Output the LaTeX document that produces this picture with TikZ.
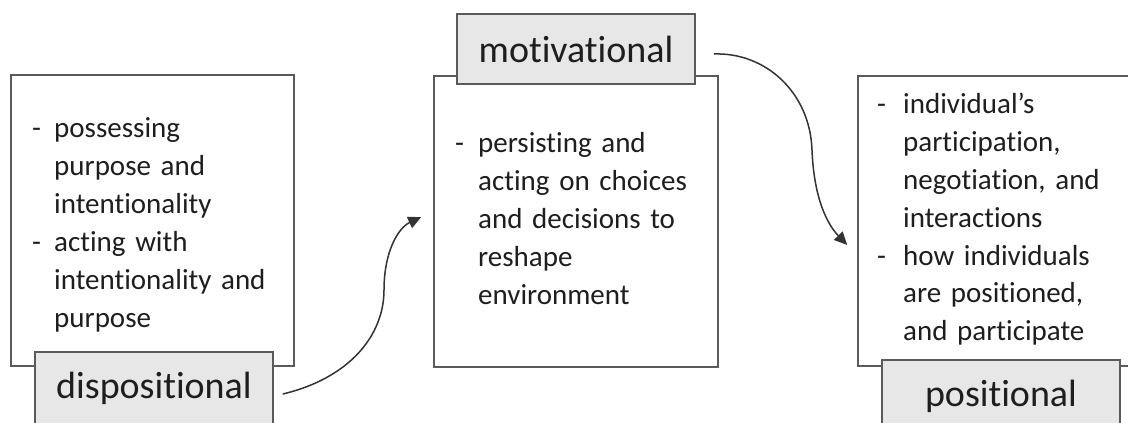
\documentclass[tikz,border=0pt]{standalone}
\usepackage{fontspec}
\setmainfont{Carlito}[Ligatures={NoCommon}]
\usetikzlibrary{arrows.meta}
\definecolor{boxline}{HTML}{5A5A5A}
\definecolor{labfill}{HTML}{E7E7E7}
\definecolor{txt}{HTML}{1E1E1E}
\tikzset{
  bigbox/.style={draw=boxline, line width=1.6pt, fill=white, minimum width=284pt, minimum height=291pt, inner sep=0pt},
  labbox/.style={draw=boxline, line width=1.6pt, fill=labfill, minimum width=238pt, minimum height=70pt, inner sep=0pt, text=txt, font=\fontsize{38}{44}\selectfont},
  dashtxt/.style={anchor=base west, inner sep=0pt, text=txt, font=\fontsize{29}{38}\selectfont},
  bodytxt/.style={anchor=base west, inner sep=0pt, text=txt, align=left, text width=240pt, font=\fontsize{29}{38}\selectfont},
  conn/.style={draw=boxline, line width=1.5pt, -{Triangle[length=13pt,width=12pt]}, color=black!80}
}
\begin{document}
\begin{tikzpicture}[x=1pt,y=-1pt]
\useasboundingbox (0,0) rectangle (1128,423);
\clip (0,0) rectangle (1128,423);
% boxes
\node[bigbox, minimum width=283pt] (disbox) at (152.5,220.5) {};
\node[bigbox] (motbox) at (576,221.5) {};
\node[bigbox, minimum height=290pt] (posbox) at (1000,221) {};
% labels
\node[labbox, minimum height=72pt] (dis) at (154,388) {dispositional};
\node[labbox] (mot) at (576,49) {motivational};
\node[labbox, minimum height=72pt] (pos) at (1001,396) {positional};
% texts
\node[dashtxt] (d1) at (32,137) {-};
\node[dashtxt] (d2) at (32,251) {-};
\node[bodytxt] (t1) at (54,137) {possessing\\purpose and\\intentionality\\acting with\\intentionality and\\purpose};
\node[dashtxt] (m1) at (455,152) {-};
\node[bodytxt] (t2) at (478,152) {persisting and\\acting on choices\\and decisions to\\reshape\\environment};
\node[dashtxt] (p1) at (877,113) {-};
\node[dashtxt] (p2) at (877,265) {-};
\node[bodytxt] (t3) at (903,113) {individual’s\\participation,\\negotiation, and\\interactions\\how individuals\\are positioned,\\and participate};
% connectors
\coordinate (a1s) at ([xshift=9pt,yshift=-6pt]dis.east);
\coordinate (a1e) at ([xshift=-12pt,yshift=4.5pt]motbox.west);
\draw[conn] (a1s) .. controls (350,378) and (384,335) .. (384,290) .. controls (384,252) and (398,228) .. (a1e);
\coordinate (a2s) at ([xshift=18pt,yshift=-5pt]mot.east);
\coordinate (a2e) at ([xshift=-10pt,yshift=-24pt]posbox.west);
\draw[conn] (a2s) .. controls (765,52) and (810,92) .. (812,150) .. controls (814,200) and (828,225) .. (a2e);
\end{tikzpicture}
\end{document}
